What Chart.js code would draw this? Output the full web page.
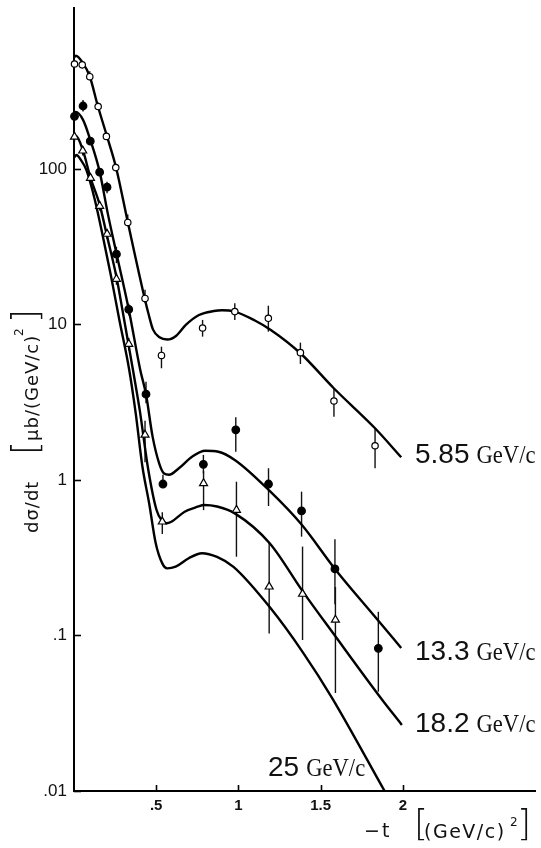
<!DOCTYPE html>
<html><head><meta charset="utf-8">
<script src="https://cdn.jsdelivr.net/npm/chart.js@4/dist/chart.umd.min.js"></script>
<style>html,body{margin:0;padding:0;background:#fff}#wrap{width:541px;height:848px;position:relative}</style>
</head><body><div id="wrap"><canvas id="c" width="541" height="848"></canvas></div>
<script>
// ---------- axis ticks ----------
const xTickValues = [0.5, 1, 1.5, 2];
const xTickLabels = ['.5', '1', '1.5', '2'];
const yTickValues = [0.01, 0.1, 1, 10, 100];
const yTickLabels = ['.01', '.1', '1', '10', '100'];

// ---------- series names ----------
const seriesNames = ['5.85', '13.3', '18.2', '25'];
const unitLabel = 'GeV/c';

// ---------- 5.85 GeV/c data (open circles) ----------
const t585  = [0.003, 0.05, 0.096, 0.147, 0.197, 0.254, 0.327, 0.432, 0.532, 0.782, 0.978, 1.182, 1.377, 1.581, 1.831];
const v585  = [473, 467, 392, 252, 162, 102, 45.3, 14.7, 6.32, 9.49, 12.1, 10.96, 6.59, 3.22, 1.66];
const hi585 = [500, 495, 425, 268, 172, 108, 51, 16.7, 7.20, 10.7, 13.7, 13.2, 7.64, 3.89, 2.15];
const lo585 = [450, 445, 375, 240, 154, 97, 43, 13.8, 5.23, 8.35, 10.7, 8.99, 5.57, 2.55, 1.19];

// ---------- 13.3 GeV/c data (filled circles) ----------
const t133  = [0.003, 0.055, 0.099, 0.156, 0.201, 0.258, 0.333, 0.438, 0.541, 0.787, 0.984, 1.183, 1.384, 1.587, 1.851];
const v133  = [218, 254, 151, 95.3, 76.4, 28.3, 12.5, 3.56, 0.942, 1.26, 2.10, 0.942, 0.632, 0.268, 0.0827];
const hi133 = [232, 278, 160, 101, 82.8, 31.6, 13.6, 4.29, 1.08, 1.45, 2.53, 1.19, 0.841, 0.416, 0.142];
const lo133 = [205, 234, 143, 90, 69.8, 24.8, 11.4, 3.11, 0.942, 1.10, 1.52, 0.68, 0.432, 0.159, 0.0435];

// ---------- 18.2 GeV/c data (open triangles) ----------
const t182  = [0.003, 0.053, 0.1, 0.156, 0.201, 0.258, 0.333, 0.432, 0.537, 0.788, 0.988, 1.187, 1.39, 1.59];
const v182  = [161, 131, 87.5, 57.8, 38.2, 19.6, 7.49, 1.95, 0.539, 0.952, 0.641, 0.206, 0.185, 0.126];
const hi182 = [172, 140, 93, 62, 41, 21.5, 8.2, 2.4, 0.62, 1.14, 0.975, 0.401, 0.373, 0.205];
const lo182 = [150, 122, 82, 54, 35.5, 18, 6.8, 1.3, 0.45, 0.64, 0.321, 0.103, 0.0935, 0.0427];

// ---------- theoretical curves ----------
const c585t = [0, 0.012, 0.05, 0.095, 0.145, 0.2, 0.255, 0.327, 0.43, 0.455, 0.48, 0.52, 0.567, 0.62, 0.68, 0.76, 0.85, 0.9, 0.978, 1.1, 1.197, 1.377, 1.58, 1.831, 1.99];
const c585v = [520, 535, 487, 396, 254, 163, 103, 45.6, 14.7, 11.5, 9.3, 8.27, 8.0, 8.44, 9.93, 11.5, 12.2, 12.35, 12.1, 10.6, 9.22, 6.53, 3.89, 2.15, 1.40];

const c133t = [0, 0.01, 0.055, 0.099, 0.156, 0.205, 0.258, 0.333, 0.403, 0.438, 0.478, 0.518, 0.548, 0.578, 0.638, 0.718, 0.798, 0.878, 0.98, 1.19, 1.384, 1.587, 1.85, 1.99];
const c133v = [225, 233, 207, 154, 96.1, 52, 28.7, 12.5, 5.1, 3.56, 1.90, 1.28, 1.10, 1.08, 1.19, 1.41, 1.54, 1.52, 1.34, 0.85, 0.517, 0.268, 0.125, 0.0831];

const c182t = [0, 0.012, 0.053, 0.1, 0.156, 0.201, 0.258, 0.3, 0.36, 0.4, 0.452, 0.502, 0.532, 0.562, 0.592, 0.673, 0.753, 0.79, 0.87, 0.978, 1.19, 1.39, 1.583, 1.867, 1.994];
const c182v = [158, 163, 133, 88, 59, 37, 20.3, 11.5, 5.0, 2.8, 1.16, 0.641, 0.553, 0.527, 0.539, 0.625, 0.673, 0.690, 0.675, 0.61, 0.392, 0.193, 0.101, 0.0395, 0.0266];

const c25t = [0, 0.015, 0.04, 0.075, 0.127, 0.175, 0.225, 0.275, 0.336, 0.375, 0.416, 0.457, 0.497, 0.537, 0.567, 0.618, 0.698, 0.778, 0.87, 0.97, 1.195, 1.396, 1.57, 1.889];
const c25v = [118, 123, 115, 98.6, 63.2, 37, 20.5, 10.8, 5.1, 2.7, 1.22, 0.708, 0.392, 0.291, 0.270, 0.277, 0.314, 0.338, 0.32, 0.276, 0.150, 0.0768, 0.0396, 0.01];

// ---------- build ----------
const xy = (ts, vs) => ts.map((t, i) => ({x: t, y: vs[i]}));
const errorSets = [
  {t: t585, lo: lo585, hi: hi585},
  {t: t133, lo: lo133, hi: hi133},
  {t: t182, lo: lo182, hi: hi182}
];

function curve(ts, vs) {
  return {type: 'line', data: xy(ts, vs), borderColor: '#000', borderWidth: 2.4,
    pointRadius: 0, fill: false, cubicInterpolationMode: 'monotone', order: 2, clip: false};
}
function pts(ts, vs, style, bg, r) {
  return {type: 'scatter', data: xy(ts, vs), showLine: false, pointStyle: style,
    backgroundColor: bg, borderColor: '#000', borderWidth: 1.2, pointRadius: r, order: 0, clip: false};
}

const BRACKET_FONT = '200 36px "DejaVu Sans"';

const decor = {
  id: 'decor',
  beforeDatasetsDraw(chart) {
    const {ctx, scales: {x, y}} = chart;
    ctx.save();
    ctx.strokeStyle = '#111';
    ctx.lineWidth = 1.4;
    errorSets.forEach(s => {
      s.t.forEach((t, i) => {
        const px = x.getPixelForValue(t);
        ctx.beginPath();
        ctx.moveTo(px, y.getPixelForValue(s.hi[i]));
        ctx.lineTo(px, y.getPixelForValue(s.lo[i]));
        ctx.stroke();
      });
    });
    ctx.restore();
  },
  afterDraw(chart) {
    const {ctx, chartArea: a, scales: {x, y}} = chart;
    ctx.save();
    ctx.strokeStyle = '#000';
    ctx.lineWidth = 1.6;
    yTickValues.forEach(v => {
      const py = Math.round(y.getPixelForValue(v)) + 0.5;
      ctx.beginPath(); ctx.moveTo(a.left, py); ctx.lineTo(a.left + 7, py); ctx.stroke();
    });
    xTickValues.forEach(v => {
      const px = Math.round(x.getPixelForValue(v)) + 0.5;
      ctx.beginPath(); ctx.moveTo(px, a.bottom); ctx.lineTo(px, a.bottom - 6); ctx.stroke();
    });

    // series labels
    ctx.fillStyle = '#111';
    ctx.textBaseline = 'alphabetic';
    ctx.textAlign = 'left';
    const spots = [[415, 463], [415, 660], [415, 732], [268, 776]];
    seriesNames.forEach((n, i) => {
      const [lx, ly] = spots[i];
      ctx.font = '28px "Liberation Sans"';
      ctx.fillText(n, lx, ly);
      const w = ctx.measureText(n).width;
      ctx.save();
      ctx.translate(lx + w + 7, ly);
      ctx.scale(0.87, 1);
      ctx.font = '26px "Liberation Serif"';
      ctx.fillText(unitLabel, 0, 0);
      ctx.restore();
    });

    // y axis title (rotated)
    ctx.save();
    ctx.translate(38, 533);
    ctx.rotate(-Math.PI / 2);
    ctx.font = '18px "DejaVu Sans"';
    ctx.letterSpacing = '1px';
    ctx.textBaseline = 'alphabetic';
    ctx.fillText('dσ/dt', 0, 0);
    ctx.fillText('μb/(GeV/c)', 92, 0);
    ctx.font = '12px "DejaVu Sans"';
    ctx.letterSpacing = '0px';
    ctx.fillText('2', 197, -15);
    ctx.font = BRACKET_FONT;
    ctx.textBaseline = 'middle';
    ctx.fillText('[', 78, -10);
    ctx.fillText(']', 210, -10);
    ctx.restore();

    // x axis title
    ctx.save();
    ctx.font = '19px "DejaVu Sans"';
    ctx.textBaseline = 'alphabetic';
    ctx.fillText('−', 364, 837);
    ctx.fillText('t', 382, 837);
    ctx.letterSpacing = '1.5px';
    ctx.fillText('(GeV/c)', 424, 838);
    ctx.letterSpacing = '0px';
    ctx.font = '12px "DejaVu Sans"';
    ctx.fillText('2', 510, 826);
    ctx.font = BRACKET_FONT;
    ctx.textBaseline = 'middle';
    ctx.fillText('[', 414, 826);
    ctx.fillText(']', 517, 826);
    ctx.restore();
    ctx.restore();
  }
};

new Chart(document.getElementById('c'), {
  data: {
    datasets: [
      pts(t585, v585, 'circle', '#fff', 3.2),
      pts(t133, v133, 'circle', '#000', 3.8),
      pts(t182, v182, 'triangle', '#fff', 4.6),
      curve(c585t, c585v),
      curve(c133t, c133v),
      curve(c182t, c182v),
      curve(c25t, c25v)
    ]
  },
  options: {
    responsive: false,
    devicePixelRatio: 1,
    animation: false,
    layout: {padding: {top: 8, left: 0, right: 0, bottom: 0}},
    plugins: {legend: {display: false}, tooltip: {enabled: false}},
    scales: {
      x: {
        type: 'linear', min: 0, max: 2.805,
        grid: {display: false, drawTicks: false},
        border: {display: true, color: '#000', width: 2},
        afterBuildTicks: s => { s.ticks = xTickValues.map(v => ({value: v})); },
        ticks: {
          autoSkip: false, maxRotation: 0, padding: 6, color: '#111',
          font: {family: 'Liberation Sans', size: 15, weight: 'bold'},
          callback: (v, i) => xTickLabels[i]
        },
        afterFit: s => { s.height = 57; s.paddingLeft = 0; s.paddingRight = 0; }
      },
      y: {
        type: 'logarithmic', min: 0.01, max: 1084,
        grid: {display: false, drawTicks: false},
        border: {display: true, color: '#000', width: 2},
        afterBuildTicks: s => { s.ticks = yTickValues.map(v => ({value: v})); },
        ticks: {
          autoSkip: false, padding: 7, color: '#111',
          font: {family: 'Liberation Sans', size: 17},
          callback: (v, i) => yTickLabels[i]
        },
        afterFit: s => { s.width = 74; s.paddingTop = 0; s.paddingBottom = 0; }
      }
    }
  },
  plugins: [decor]
});
</script>
</body></html>
